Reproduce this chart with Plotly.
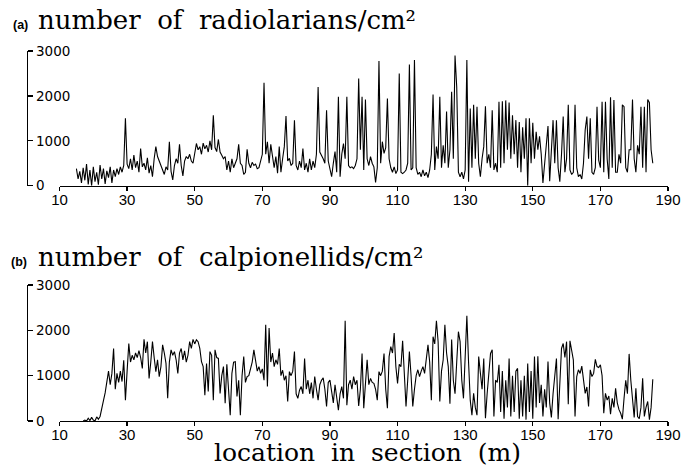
import plotly.graph_objects as go

# ---------------- data ----------------
# (a) number of radiolarians / cm2, samples every 0.5 m starting at 15.0 m
radiolarians_start = 15.0
radiolarians = [
    380, 150, 320, 60, 400, 120, 480, 30, 350, 0, 420, 90, 300, 20, 460, 150, 380, 40, 330, 180,
    420, 60, 350, 200, 380, 250, 420, 300, 450, 1500, 480, 380, 600, 350, 680, 400, 550, 300, 830, 420,
    500, 350, 620, 280, 450, 200, 600, 870, 650, 550, 480, 350, 250, 420, 350, 980, 320, 130, 450, 600,
    500, 920, 450, 220, 550, 650, 600, 700, 550, 500, 750, 940, 800, 870, 700, 950, 820, 900, 750, 1000,
    800, 1570, 850, 760, 1030, 750, 680, 600, 650, 350, 550, 300, 600, 400, 500, 600, 920, 500, 450, 250,
    300, 810, 500, 400, 520, 450, 480, 380, 400, 550, 700, 2290, 700, 980, 500, 920, 600, 400, 650, 280,
    870, 300, 600, 870, 1550, 550, 610, 450, 500, 1460, 450, 350, 550, 400, 830, 350, 500, 300, 600, 350,
    550, 400, 700, 2200, 750, 680, 600, 500, 1680, 550, 350, 200, 500, 760, 300, 1980, 200, 700, 940, 600,
    1980, 450, 400, 420, 380, 450, 600, 2390, 800, 1980, 350, 1920, 600, 450, 650, 500, 420, 70, 400, 2775,
    500, 980, 720, 850, 1940, 600, 400, 300, 420, 270, 350, 2500, 300, 270, 300, 350, 500, 2700, 350, 400,
    2800, 400, 250, 300, 200, 350, 220, 300, 180, 350, 700, 2030, 350, 870, 600, 1980, 400, 900, 500, 1650,
    400, 800, 2090, 600, 2900, 2200, 300, 200, 300, 150, 350, 2800, 90, 1720, 400, 1800, 600, 1760, 500, 200,
    600, 870, 1770, 500, 700, 400, 1680, 350, 500, 300, 1870, 400, 1880, 500, 1900, 800, 1850, 600, 1570, 700,
    1460, 400, 1420, 300, 1300, 600, 1500, 0, 1500, 500, 1400, 600, 1200, 800, 1100, 700, 60, 500, 900, 1330,
    100, 700, 1460, 500, 1460, 400, 90, 700, 1540, 300, 600, 1800, 350, 250, 300, 1800, 400, 200, 250, 150,
    500, 1240, 1540, 600, 1500, 300, 250, 400, 1760, 570, 400, 1870, 300, 1870, 600, 150, 1970, 400, 1910, 300,
    300, 700, 500, 1800, 1760, 400, 300, 800, 800, 1920, 600, 300, 900, 700, 1760, 400, 1760, 300, 1920, 1850,
    800, 500,
]

# (b) number of calpionellids / cm2, samples every 0.5 m starting at 17.0 m
calpionellids_start = 17.0
calpionellids = [
    0, 20, 0, 60, 10, 80, 20, 0, 90, 40, 100, 250, 450, 620, 900, 1100, 800, 1050, 1600, 700,
    1050, 850, 1100, 870, 1340, 460, 1100, 1710, 1300, 1450, 1350, 1500, 1400, 1550, 1400, 1160, 1800, 1500, 1750, 940,
    1300, 1750, 1400, 1090, 1350, 980, 1200, 1680, 1500, 1270, 500, 1300, 1570, 1450, 1530, 1350, 1050, 1500, 1600, 1350,
    1550, 1300, 1450, 1750, 1600, 1800, 1700, 1790, 1750, 1600, 1310, 1200, 570, 1270, 650, 1530, 1450, 460, 1570, 1400,
    1380, 610, 1000, 1200, 390, 1250, 700, 130, 1050, 1300, 1310, 540, 900, 130, 1000, 1420, 850, 980, 1000, 1150,
    1300, 1570, 1270, 1100, 1200, 1050, 1150, 900, 2120, 760, 2050, 1300, 1500, 1200, 1350, 1250, 1600, 1000, 1120, 900,
    1000, 430, 1090, 1000, 1100, 1530, 600, 500, 680, 760, 600, 1380, 700, 900, 600, 850, 500, 980, 700, 460,
    800, 900, 950, 700, 320, 850, 900, 600, 400, 800, 500, 240, 600, 760, 500, 2210, 350, 800, 900, 700,
    980, 800, 900, 330, 700, 1490, 280, 900, 1350, 800, 940, 850, 830, 700, 460, 1090, 1000, 1100, 1490, 700,
    280, 1420, 1640, 1500, 1940, 1200, 830, 1250, 1200, 1770, 900, 320, 900, 1530, 1000, 320, 700, 1000, 1130, 980,
    1100, 1200, 1050, 1420, 1680, 1300, 460, 1860, 1700, 2210, 1750, 430, 1100, 1350, 2120, 1500, 1200, 380, 1800, 900,
    600, 1300, 1970, 1750, 900, 500, 1400, 2320, 1300, 460, 130, 610, 300, 130, 1420, 1100, 700, 1380, 60, 600,
    1050, 1490, 1570, 100, 900, 850, 1240, 200, 1100, 50, 900, 300, 1380, 100, 1000, 200, 1100, 1160, 50, 900,
    100, 1000, 30, 1270, 200, 1100, 50, 1420, 300, 1430, 400, 800, 100, 700, 300, 1310, 400, 80, 600, 1000,
    1380, 40, 800, 1600, 1710, 1400, 1750, 370, 1770, 1530, 1350, 100, 980, 1130, 1050, 1210, 830, 610, 750, 320,
    1130, 980, 1050, 1360, 1200, 1180, 1240, 1000, 170, 610, 460, 550, 150, 500, 300, 720, 400, 250, 170, 40,
    500, 900, 600, 1480, 900, 400, 80, 720, 100, 50, 300, 940, 100, 300, 430, 30, 300, 920,
]

sample_step = 0.5
depth_a = [radiolarians_start + sample_step * i for i in range(len(radiolarians))]
depth_b = [calpionellids_start + sample_step * i for i in range(len(calpionellids))]

x_ticks = [10, 30, 50, 70, 90, 110, 130, 150, 170, 190]
y_ticks = [0, 1000, 2000, 3000]

title_a = "number\u00a0\u00a0of\u00a0\u00a0radiolarians/cm\u00b2"
title_b = "number\u00a0\u00a0of\u00a0\u00a0calpionellids/cm\u00b2"
x_title = "location\u00a0\u00a0in\u00a0\u00a0section\u00a0\u00a0(m)"

# ---------------- figure ----------------
W, H = 684, 466


def px_x(p):
    return p / W


def px_y(p):
    return 1 - p / H


fig = go.Figure()
fig.add_trace(go.Scatter(x=depth_a, y=radiolarians, mode="lines",
                         line=dict(color="black", width=1.1),
                         xaxis="x", yaxis="y", showlegend=False, hoverinfo="skip"))
fig.add_trace(go.Scatter(x=depth_b, y=calpionellids, mode="lines",
                         line=dict(color="black", width=1.1),
                         xaxis="x2", yaxis="y2", showlegend=False, hoverinfo="skip"))

xdom = [px_x(59.5), px_x(668)]
xtick_font = dict(family="Liberation Sans", size=15, color="black")
ytick_font = dict(family="DejaVu Sans", size=13.5, color="black")

common_x = dict(range=[10, 190], domain=xdom, showline=True, linecolor="black", linewidth=1.3,
                ticks="outside", ticklen=4, tickwidth=1.3, tickcolor="black",
                ticklabelstandoff=-4,
                tickvals=x_ticks, tickfont=xtick_font, showgrid=False, zeroline=False,
                fixedrange=True, automargin=False)
common_y = dict(range=[0, 3000], anchor="free", position=px_x(27), side="right",
                showline=True, linecolor="black", linewidth=1.3, ticks="outside",
                ticklen=5, tickwidth=1.3, tickcolor="black", tickvals=y_ticks,
                tickfont=ytick_font, showgrid=False, zeroline=False, fixedrange=True,
                automargin=False)

fig.update_layout(
    template="none",
    width=W, height=H,
    margin=dict(l=0, r=0, t=0, b=0, autoexpand=False),
    paper_bgcolor="white", plot_bgcolor="white",
    xaxis=dict(anchor="y", **common_x),
    yaxis=dict(domain=[px_y(185.7), px_y(51)], **common_y),
    xaxis2=dict(anchor="y2", **common_x),
    yaxis2=dict(domain=[px_y(421), px_y(285)], **common_y),
    showlegend=False,
)

serif = "DejaVu Serif"
ann = [
    dict(text="<b>(a)</b>", x=px_x(11), y=px_y(24.5), xanchor="left", yanchor="middle",
         font=dict(family="Liberation Sans", size=12.5, color="black")),
    dict(text=title_a, x=px_x(36), y=px_y(19.5), xanchor="left", yanchor="middle",
         font=dict(family=serif, size=26, color="black")),
    dict(text="<b>(b)</b>", x=px_x(9), y=px_y(262), xanchor="left", yanchor="middle",
         font=dict(family="Liberation Sans", size=12.5, color="black")),
    dict(text=title_b, x=px_x(36), y=px_y(256.5), xanchor="left", yanchor="middle",
         font=dict(family=serif, size=26, color="black")),
    dict(text=x_title, x=px_x(367), y=0, xanchor="center", yanchor="bottom", yshift=-2,
         borderpad=0, font=dict(family=serif, size=25, color="black")),
]
for a in ann:
    a.update(xref="paper", yref="paper", showarrow=False)
fig.update_layout(annotations=ann)

fig.write_html("out.html", config={"displayModeBar": False, "staticPlot": True},
               post_script="document.body.style.margin='0';document.body.style.overflow='hidden';")
